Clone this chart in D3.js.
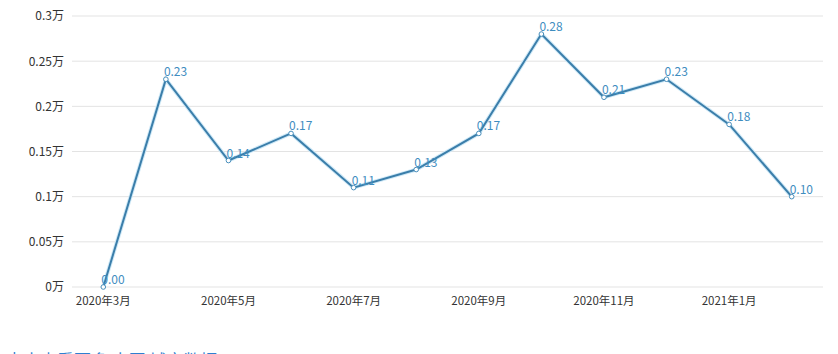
<!DOCTYPE html>
<html>
<head>
<meta charset="utf-8">
<script src="https://cdn.jsdelivr.net/npm/d3@7"></script>
<style>
  body { margin: 0; background: #fff; overflow: hidden; }
  text { font-family: "Noto Sans CJK SC", "Noto Sans", sans-serif; }
</style>
</head>
<body>
<div id="wrapper"></div>
<script>
const months = ["2020年3月", "2020年4月", "2020年5月", "2020年6月", "2020年7月", "2020年8月",
    "2020年9月", "2020年10月", "2020年11月", "2020年12月", "2021年1月", "2021年2月"];
const values = [0.00, 0.23, 0.14, 0.17, 0.11, 0.13, 0.17, 0.28, 0.21, 0.23, 0.18, 0.10];
const yTicks = [0, 0.05, 0.1, 0.15, 0.2, 0.25, 0.3];
const xTickLabels = ["2020年3月", "2020年5月", "2020年7月", "2020年9月", "2020年11月", "2021年1月"];

const dimensions = {
    width: 838,
    height: 354,
    margins: { top: 16, right: 15, bottom: 67, left: 72 }
};
dimensions.boundedWidth = dimensions.width - dimensions.margins.left - dimensions.margins.right;
dimensions.boundedHeight = dimensions.height - dimensions.margins.top - dimensions.margins.bottom;

const svg = d3.select('#wrapper')
    .append('svg')
    .attr('width', dimensions.width)
    .attr('height', dimensions.height);

const bounds = svg.append('g')
    .attr('transform', `translate(${dimensions.margins.left},${dimensions.margins.top})`);

const xScale = d3.scaleBand()
    .domain(months)
    .range([0, dimensions.boundedWidth]);

const yScale = d3.scaleLinear()
    .domain([0, 0.3])
    .range([dimensions.boundedHeight, 0]);

const xCenter = d => xScale(d) + xScale.bandwidth() / 2;

// grid lines
bounds.append('g')
    .selectAll('line')
    .data(yTicks)
    .join('line')
    .attr('x1', 0)
    .attr('x2', dimensions.boundedWidth)
    .attr('y1', d => yScale(d))
    .attr('y2', d => yScale(d))
    .attr('stroke', '#e3e3e3')
    .attr('stroke-width', 1);

// y axis
const yAxis = bounds.append('g')
    .call(d3.axisLeft(yScale).tickValues(yTicks).tickSize(0).tickPadding(8)
        .tickFormat(d => d + '万'));
yAxis.select('.domain').remove();
yAxis.selectAll('text')
    .attr('fill', '#333')
    .style('font-size', '12px');

// x axis
const xAxis = bounds.append('g')
    .attr('transform', `translate(0,${dimensions.boundedHeight})`)
    .call(d3.axisBottom(xScale).tickValues(xTickLabels).tickSize(0).tickPadding(10));
xAxis.select('.domain').remove();
xAxis.selectAll('text')
    .attr('fill', '#333')
    .style('font-size', '11.5px');

const data = months.map((m, i) => ({ month: m, value: values[i] }));

const lineGenerator = d3.line()
    .x(d => xCenter(d.month))
    .y(d => yScale(d.value));

bounds.append('path')
    .attr('d', lineGenerator(data))
    .attr('fill', 'none')
    .attr('stroke', '#cfe9f7')
    .attr('stroke-width', 4);

bounds.append('path')
    .attr('d', lineGenerator(data))
    .attr('fill', 'none')
    .attr('stroke', '#3b7eaa')
    .attr('stroke-width', 2);

bounds.append('g')
    .selectAll('circle')
    .data(data)
    .join('circle')
    .attr('cx', d => xCenter(d.month))
    .attr('cy', d => yScale(d.value))
    .attr('r', 2.3)
    .attr('fill', '#fff')
    .attr('stroke', '#4a8fbc')
    .attr('stroke-width', 1);

bounds.append('g')
    .selectAll('text')
    .data(data)
    .join('text')
    .attr('x', d => xCenter(d.month) - 2)
    .attr('y', d => yScale(d.value) - 3)
    .attr('fill', '#3f8dbf')
    .style('font-size', '12px')
    .text(d => d.value.toFixed(2));

// partially visible link text at the bottom edge
svg.append('text')
    .attr('x', 6)
    .attr('y', 367)
    .attr('fill', '#2f7fd0')
    .style('font-size', '17px')
    .text('点击查看更多 中国 城市数据');
</script>
</body>
</html>
